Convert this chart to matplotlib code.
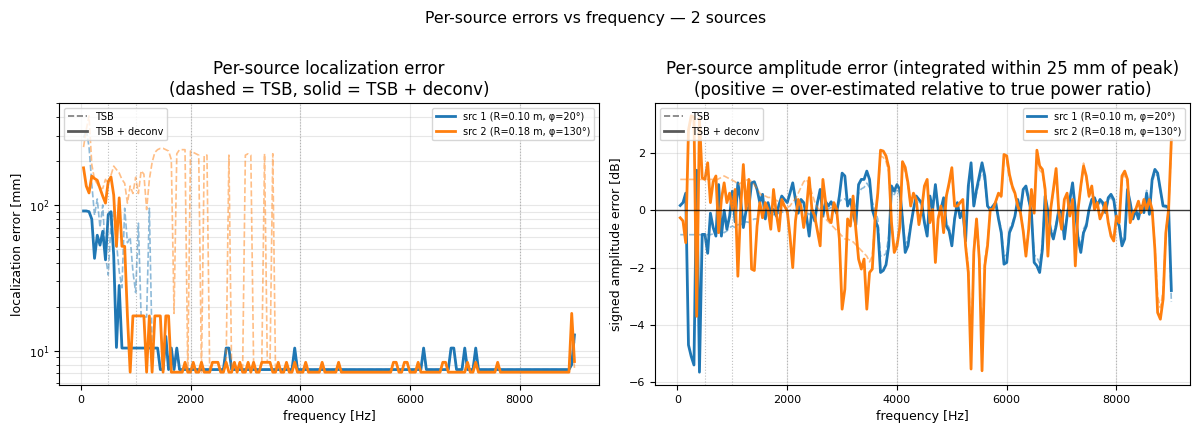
import numpy as np
import matplotlib
matplotlib.use("Agg")
import matplotlib.pyplot as plt
from matplotlib.lines import Line2D

# ---------------- data ----------------
freqs = np.arange(50, 9001, 50)  # Hz, 180 analysis frequencies
octave_marks = [500, 1000, 2000, 4000, 8000]

src_labels = ["src 1 (R=0.10 m, \u03c6=20\u00b0)", "src 2 (R=0.18 m, \u03c6=130\u00b0)"]

# localization error [mm]
loc1_deconv = [
    91, 91, 90, 80, 43, 62, 53, 66, 42, 86,
    90, 45, 10.5, 28, 10.4, 10.4, 10.4, 10.4, 10.4, 10.4,
    10.4, 10.4, 10.4, 10.4, 10.4, 10.4, 10.4, 10.4, 7.4, 7.4,
    12.5, 7.4, 10.4, 7.4, 10.4, 7.4, 7.4, 7.4, 7.4, 7.4,
    7.4, 7.4, 7.4, 7.4, 7.4, 7.4, 7.4, 7.4, 7.4, 7.4,
    7.4, 7.4, 10.4, 10.4, 7.4, 7.4, 7.4, 7.4, 7.4, 7.4,
    7.4, 7.4, 7.4, 7.4, 7.4, 7.4, 7.4, 7.4, 7.4, 7.4,
    7.4, 7.4, 7.4, 7.4, 7.4, 7.4, 7.4, 10.4, 7.4, 7.4,
    7.4, 7.4, 7.4, 7.4, 7.4, 7.4, 7.4, 7.4, 7.4, 7.4,
    7.4, 7.4, 7.4, 7.4, 7.4, 7.4, 7.4, 7.4, 7.4, 7.4,
    7.4, 7.4, 7.4, 7.4, 7.4, 7.4, 7.4, 7.4, 7.4, 7.4,
    7.4, 7.4, 7.4, 7.4, 7.4, 7.4, 7.4, 7.4, 7.4, 7.4,
    7.4, 7.4, 7.4, 7.4, 10.4, 7.4, 7.4, 7.4, 7.4, 7.4,
    7.4, 7.4, 7.4, 7.4, 10.4, 10.4, 7.4, 7.4, 7.4, 10.4,
    7.4, 7.4, 7.4, 10.4, 7.4, 7.4, 7.4, 7.4, 7.4, 7.4,
    7.4, 7.4, 7.4, 7.4, 7.4, 7.4, 7.4, 7.4, 7.4, 7.4,
    7.4, 7.4, 7.4, 7.4, 7.4, 7.4, 7.4, 7.4, 7.4, 7.4,
    7.4, 7.4, 7.4, 7.4, 7.4, 7.4, 7.4, 7.4, 8.0, 12.8,
]
loc1_tsb = [
    290, 330, 250, 140, 85, 110, 70, 100, 45, 33,
    75, 90, 55, 35, 27, 95, 55, 60, 35, 25,
    75, 17, 17, 17, 95, 10.4, 10.4, 10.4, 7.4, 7.4,
    12.5, 7.4, 10.4, 7.4, 10.4, 7.4, 7.4, 7.4, 7.4, 7.4,
    7.4, 7.4, 7.4, 7.4, 7.4, 7.4, 7.4, 7.4, 7.4, 7.4,
    7.4, 7.4, 10.4, 10.4, 7.4, 7.4, 7.4, 7.4, 7.4, 7.4,
    7.4, 7.4, 7.4, 7.4, 7.4, 7.4, 7.4, 7.4, 7.4, 7.4,
    7.4, 7.4, 7.4, 7.4, 7.4, 7.4, 7.4, 10.4, 7.4, 7.4,
    7.4, 7.4, 7.4, 7.4, 7.4, 7.4, 7.4, 7.4, 7.4, 7.4,
    7.4, 7.4, 7.4, 7.4, 7.4, 7.4, 7.4, 7.4, 7.4, 7.4,
    7.4, 7.4, 7.4, 7.4, 7.4, 7.4, 7.4, 7.4, 7.4, 7.4,
    7.4, 7.4, 7.4, 7.4, 7.4, 7.4, 7.4, 7.4, 7.4, 7.4,
    7.4, 7.4, 7.4, 7.4, 10.4, 7.4, 7.4, 7.4, 7.4, 7.4,
    7.4, 7.4, 7.4, 7.4, 10.4, 10.4, 7.4, 7.4, 7.4, 10.4,
    7.4, 7.4, 7.4, 10.4, 7.4, 7.4, 7.4, 7.4, 7.4, 7.4,
    7.4, 7.4, 7.4, 7.4, 7.4, 7.4, 7.4, 7.4, 7.4, 7.4,
    7.4, 7.4, 7.4, 7.4, 7.4, 7.4, 7.4, 7.4, 7.4, 7.4,
    7.4, 7.4, 7.4, 7.4, 7.4, 7.4, 7.4, 7.4, 8.6, 11.5,
]
loc2_deconv = [
    180, 135, 121, 158, 152, 148, 130, 115, 103, 145,
    156, 117, 52, 112, 52, 52, 17.3, 7.1, 17.3, 17.3,
    17.3, 17.3, 17.3, 7.1, 17.3, 7.1, 17.3, 17.3, 17.3, 7.1,
    17.3, 17.3, 7.1, 7.1, 7.1, 7.1, 7.1, 8.3, 7.1, 7.1,
    8.3, 7.1, 7.1, 8.3, 7.1, 7.1, 7.1, 8.3, 8.3, 8.3,
    7.1, 7.1, 8.3, 7.1, 7.1, 8.3, 7.1, 8.3, 7.1, 7.1,
    8.3, 7.1, 8.3, 7.1, 7.1, 8.3, 8.3, 8.3, 8.3, 7.1,
    7.1, 8.3, 7.1, 7.1, 8.3, 7.1, 7.1, 8.3, 7.1, 7.1,
    7.1, 8.3, 7.1, 7.1, 7.1, 7.1, 7.1, 8.3, 7.1, 7.1,
    7.1, 7.1, 7.1, 8.3, 7.1, 7.1, 7.1, 7.1, 7.1, 7.1,
    7.1, 7.1, 7.1, 7.1, 7.1, 7.1, 7.1, 7.1, 7.1, 7.1,
    7.1, 7.1, 7.1, 8.3, 8.3, 7.1, 7.1, 8.3, 8.3, 7.1,
    7.1, 7.1, 8.3, 7.1, 7.1, 7.1, 7.1, 7.1, 7.1, 7.1,
    7.1, 8.3, 8.3, 7.1, 7.1, 7.1, 7.1, 7.1, 7.1, 7.1,
    8.3, 7.1, 7.1, 8.3, 7.1, 7.1, 7.1, 7.1, 7.1, 7.1,
    7.1, 8.3, 7.1, 7.1, 7.1, 7.1, 7.1, 7.1, 7.1, 7.1,
    7.1, 7.1, 7.1, 7.1, 7.1, 7.1, 7.1, 7.1, 7.1, 7.1,
    7.1, 7.1, 7.1, 7.1, 7.1, 7.1, 7.1, 7.1, 18.0, 8.4,
]
loc2_tsb = [
    250, 330, 410, 190, 150, 140, 130, 130, 150, 140,
    160, 185, 175, 166, 150, 141, 103, 135, 120, 155,
    120, 172, 163, 93, 150, 196, 230, 240, 245, 245,
    240, 235, 205, 18, 225, 240, 240, 240, 7.1, 235,
    230, 225, 220, 7.1, 220, 220, 7.1, 8.3, 8.3, 8.3,
    7.1, 7.1, 8.3, 220, 7.1, 8.3, 7.1, 8.3, 7.1, 220,
    225, 220, 8.3, 7.1, 7.1, 8.3, 225, 8.3, 8.3, 225,
    7.1, 8.3, 7.1, 7.1, 8.3, 7.1, 7.1, 8.3, 7.1, 7.1,
    7.1, 8.3, 7.1, 7.1, 7.1, 7.1, 7.1, 8.3, 7.1, 7.1,
    7.1, 7.1, 7.1, 8.3, 7.1, 7.1, 7.1, 7.1, 7.1, 7.1,
    7.1, 7.1, 7.1, 7.1, 7.1, 7.1, 7.1, 7.1, 7.1, 7.1,
    7.1, 7.1, 7.1, 8.3, 8.3, 7.1, 7.1, 8.3, 8.3, 7.1,
    7.1, 7.1, 8.3, 7.1, 7.1, 7.1, 7.1, 7.1, 7.1, 7.1,
    7.1, 8.3, 8.3, 7.1, 7.1, 7.1, 7.1, 7.1, 7.1, 7.1,
    8.3, 7.1, 7.1, 8.3, 7.1, 7.1, 7.1, 7.1, 7.1, 7.1,
    7.1, 8.3, 7.1, 7.1, 7.1, 7.1, 7.1, 7.1, 7.1, 7.1,
    7.1, 7.1, 7.1, 7.1, 7.1, 7.1, 7.1, 7.1, 7.1, 7.1,
    7.1, 7.1, 7.1, 7.1, 7.1, 7.1, 7.1, 7.1, 15.0, 7.6,
]

# signed amplitude error [dB]
amp1_deconv = [
    0.17, 0.27, 0.6, -4.7, -5.1, -5.4, 1.4, -5.65, -0.84, -0.84,
    -1.5, -0.1, -0.6, -0.9, 0.9, -0.9, 0.0, -0.66, -0.2, 0.67,
    -0.4, 0.96, 0.38, -0.6, 0.0, 0.1, 0.96, 1.0, 0.73, 0.27,
    0.56, -0.3, 0.27, -0.1, 0.03, -0.2, 0.2, 0.5, 0.38, 0.27,
    0.6, 0.96, 0.38, -0.1, 0.38, 0.27, -0.2, -0.9, 0.03, -0.37,
    0.27, 0.73, -0.2, 0.3, 0.15, 0.3, 0.1, -0.1, 0.5, 1.3,
    1.2, 0.15, 0.38, -0.1, -0.5, 0.9, 1.08, 1.08, 1.37, 1.08,
    0.03, -0.3, -0.6, -2.17, -2.1, -1.9, -1.24, 0.85, 0.67, 0.9,
    0.73, -0.3, -1.47, -1.24, -0.55, 0.03, 0.5, 0.38, 0.27, -0.43,
    -0.9, 0.5, 0.03, 0.9, 0.03, 0.03, 0.44, -0.55, -0.72, -1.24,
    -0.3, 0.27, -0.26, -0.02, -1.07, 0.85, 1.66, 0.15, 0.73, 1.2,
    1.66, 1.2, 0.15, 0.03, 0.15, 0.27, -0.3, -0.78, -1.88, -1.82,
    -0.78, -0.55, -0.2, 0.38, -0.02, 0.73, 0.85, 0.38, -0.08, -1.82,
    -1.94, -2.17, -1.36, 0.5, -0.02, -0.72, -1.0, -0.55, 0.03, -0.08,
    -1.0, -0.2, 0.38, 0.96, 0.03, -1.0, -1.47, -0.78, -0.55, 0.03,
    0.38, 0.44, 0.15, 0.38, 0.27, -0.08, 0.44, 0.56, 0.38, -0.3,
    -0.55, -1.24, -1.0, 0.73, 0.27, -0.3, 0.03, -0.3, 0.15, -0.08,
    0.6, -0.14, 1.08, 1.43, 1.3, 0.73, 0.15, 0.15, 0.1, -2.8,
]
amp1_tsb = [
    -0.85, -0.85, -0.85, -0.85, -0.85, -0.85, -0.85, -0.85, -0.85, -0.85,
    -0.85, -0.85, -0.82, -0.8, -0.78, -0.72, -0.78, -0.72, -0.6, -0.55,
    -0.6, -0.5, -0.5, -0.45, -0.4, -0.42, -0.35, -0.3, -0.3, -0.28,
    -0.25, -0.2, -0.22, -0.15, -0.15, -0.12, -0.1, -0.05, -0.1, -0.05,
    0.0, 0.05, -0.05, -0.1, 0.0, 0.02, -0.05, -0.15, -0.05, -0.1,
    0.05, 0.1, 0.0, 0.1, 0.05, 0.1, 0.05, 0.0, 0.3, 0.4,
    0.4, 0.3, 0.35, 0.2, 0.1, 0.6, 0.75, 0.8, 0.95, 0.8,
    0.3, 0.0, -0.3, -1.6, -1.6, -1.5, -0.9, 0.7, 0.55, 0.75,
    0.6, -0.2, -1.2, -1.0, -0.45, 0.0, 0.4, 0.3, 0.2, -0.35,
    -0.75, 0.4, 0.0, 0.75, 0.0, 0.0, 0.35, -0.45, -0.6, -1.05,
    -0.25, 0.2, -0.2, 0.0, -0.9, 0.7, 1.45, 0.1, 0.6, 1.0,
    1.45, 1.0, 0.1, 0.0, 0.1, 0.2, -0.25, -0.65, -1.6, -1.55,
    -0.65, -0.45, -0.15, 0.3, 0.0, 0.6, 0.7, 0.3, -0.05, -1.55,
    -1.65, -1.85, -1.15, 0.4, 0.0, -0.6, -0.85, -0.45, 0.0, -0.05,
    -0.85, -0.15, 0.3, 0.8, 0.0, -0.85, -1.25, -0.65, -0.45, 0.0,
    0.3, 0.35, 0.1, 0.3, 0.2, -0.05, 0.35, 0.45, 0.3, -0.25,
    -0.45, -1.05, -0.85, 0.6, 0.2, -0.25, 0.0, -0.25, 0.1, -0.05,
    0.7, -0.1, 0.95, 1.3, 1.2, 0.65, 0.1, 0.1, 0.05, -3.2,
]
amp2_deconv = [
    -0.26, -0.37, -1.13, 2.8, 3.3, 3.25, -3.7, 3.2, 1.14, 1.08,
    1.66, 0.27, 1.0, 1.2, -0.78, 0.38, 0.96, 0.27, 0.6, 0.03,
    0.73, -2.3, 0.03, 1.6, 0.03, 1.08, -2.05, -2.1, -0.55, 0.27,
    -0.26, 0.27, 0.03, -0.66, 0.73, -0.1, -0.72, 0.38, 0.15, -0.02,
    -0.9, -2.0, -0.37, 0.38, 0.15, -0.6, 0.03, 1.14, 0.03, -0.2,
    -0.72, -1.24, 1.08, 0.27, -0.3, -0.43, 0.27, 0.03, -1.0, -3.45,
    -2.75, -0.3, -0.55, 0.5, -0.66, -1.7, -2.05, -1.7, -3.45, -2.17,
    -2.05, -0.3, 0.6, 2.1, 2.07, 1.9, 1.5, -0.43, -1.47, -1.24,
    -0.6, 1.7, 1.5, 0.96, 0.15, 0.6, 0.38, -0.5, 0.03, 0.85,
    1.08, -0.43, 0.03, -1.82, -0.3, 0.15, -0.78, 0.5, 0.96, 1.49,
    0.15, 0.15, 0.27, 0.38, -1.24, -2.17, -5.54, -1.47, -0.3, -1.7,
    -5.6, -1.94, -1.24, 0.03, 0.03, 0.32, 0.6, 0.5, 1.95, 1.9,
    1.25, 0.85, 0.6, 0.15, -0.08, -0.72, -1.6, -0.66, 0.73, -0.1,
    2.1, 1.55, 1.43, 0.73, -1.6, 0.03, 0.73, 1.46, -0.08, -0.66,
    0.38, 0.6, -0.2, 0.38, -1.94, 0.03, 0.85, 1.55, 1.2, 0.5,
    0.85, 0.03, 0.27, -0.3, -0.08, 0.27, -0.43, -0.9, -1.07, -0.2,
    -0.43, 1.2, 1.37, 1.08, -0.43, -0.08, 0.03, 0.32, -0.08, 0.38,
    0.03, 0.38, 0.03, -1.36, -3.57, -3.8, -3.1, -0.78, 0.03, 2.47,
]
amp2_tsb = [
    1.08, 1.08, 1.08, 1.08, 1.08, 1.08, 1.08, 1.08, 1.08, 1.08,
    1.08, 1.08, 1.08, 1.05, 1.1, 1.15, 1.2, 1.15, 1.1, 1.05,
    1.0, 0.9, 0.95, 1.0, 1.05, 1.08, 1.0, 0.9, 0.75, 0.6,
    0.5, 0.5, 0.45, 0.45, 0.4, 0.35, 0.3, 0.2, 0.15, 0.1,
    0.15, 0.3, 0.4, 0.6, 0.8, 1.0, 1.08, 0.9, 0.6, 0.3,
    0.1, 0.0, -0.2, -0.3, -0.4, -0.5, -0.6, -0.7, -0.8, -0.9,
    -1.0, -1.0, -1.05, -1.1, -1.2, -1.3, -1.4, -1.5, -1.6, -1.8,
    -1.6, -0.3, 0.5, 1.9, 1.85, 1.7, 1.35, -0.35, -1.3, -1.1,
    -0.5, 1.5, 1.35, 0.85, 0.15, 0.55, 0.35, -0.45, 0.03, 0.75,
    0.95, -0.4, 0.03, -1.6, -0.25, 0.15, -0.7, 0.45, 0.85, 1.3,
    0.15, 0.15, 0.25, 0.35, -1.1, -1.9, -5.0, -1.3, -0.25, -1.5,
    -5.2, -1.7, -1.1, 0.03, 0.03, 0.3, 0.55, 0.45, 1.75, 1.7,
    1.1, 0.75, 0.55, 0.15, -0.05, -0.65, -1.4, -0.6, 0.65, -0.1,
    1.85, 1.4, 1.3, 0.65, -1.4, 0.03, 0.65, 1.3, -0.05, -0.6,
    0.35, 0.55, -0.2, 0.35, -1.7, 0.03, 0.75, 1.65, 1.1, 0.45,
    0.75, 0.03, 0.25, -0.25, -0.05, 0.25, -0.4, -0.8, -0.95, -0.2,
    -0.4, 1.05, 1.25, 0.95, -0.4, -0.05, 0.03, 0.3, -0.05, 0.35,
    0.03, 0.35, 0.03, -1.2, -3.0, -3.4, -2.8, -0.7, 0.03, 2.2,
]

# ---------------- figure ----------------
plt.rcParams["axes.labelsize"] = 9
plt.rcParams["xtick.labelsize"] = 8
plt.rcParams["ytick.labelsize"] = 8

W, H = 1192, 424
fig = plt.figure(figsize=(W / 100, H / 100), dpi=100)
ax1 = fig.add_axes([59 / W, 39 / H, 540 / W, 282 / H])
ax2 = fig.add_axes([655 / W, 39 / H, 535 / W, 282 / H])

colors = ["tab:blue", "tab:orange"]
loc_tsb = [loc1_tsb, loc2_tsb]
loc_dec = [loc1_deconv, loc2_deconv]
amp_tsb = [amp1_tsb, amp2_tsb]
amp_dec = [amp1_deconv, amp2_deconv]

for ax, tsb, dec in [(ax1, loc_tsb, loc_dec), (ax2, amp_tsb, amp_dec)]:
    src_handles = []
    for c, yt, yd, lab in zip(colors, tsb, dec, src_labels):
        ax.plot(freqs, yt, ls="--", color=c, lw=1.2, alpha=0.5)
        h, = ax.plot(freqs, yd, ls="-", color=c, lw=2, label=lab)
        src_handles.append(h)
    for fv in octave_marks:
        ax.axvline(fv, color="gray", ls=":", lw=0.8, alpha=0.5)
    style_handles = [
        Line2D([], [], color="0.35", ls="--", lw=1.2, alpha=0.8),
        Line2D([], [], color="0.35", ls="-", lw=2),
    ]
    leg1 = ax.legend(style_handles, ["TSB", "TSB + deconv"], loc="upper left", fontsize=7)
    ax.add_artist(leg1)
    ax.legend(handles=src_handles, loc="upper right", fontsize=7)
    ax.set_xlabel("frequency [Hz]")

ax1.set_yscale("log")
ax1.grid(True, which="both", alpha=0.3)
ax1.set_ylabel("localization error [mm]")
ax1.set_title("Per-source localization error\n(dashed = TSB, solid = TSB + deconv)", fontsize=12)

ax2.axhline(0, color="k", lw=1, alpha=0.75)
ax2.grid(True, alpha=0.3)
ax2.set_xlim(-410, 9340)
ax2.set_ylabel("signed amplitude error [dB]")
ax2.set_title("Per-source amplitude error (integrated within 25 mm of peak)\n"
              "(positive = over-estimated relative to true power ratio)", fontsize=12)

fig.suptitle("Per-source errors vs frequency \u2014 2 sources", y=0.975, fontsize=11.3)

fig.savefig("out.png", dpi=100)
